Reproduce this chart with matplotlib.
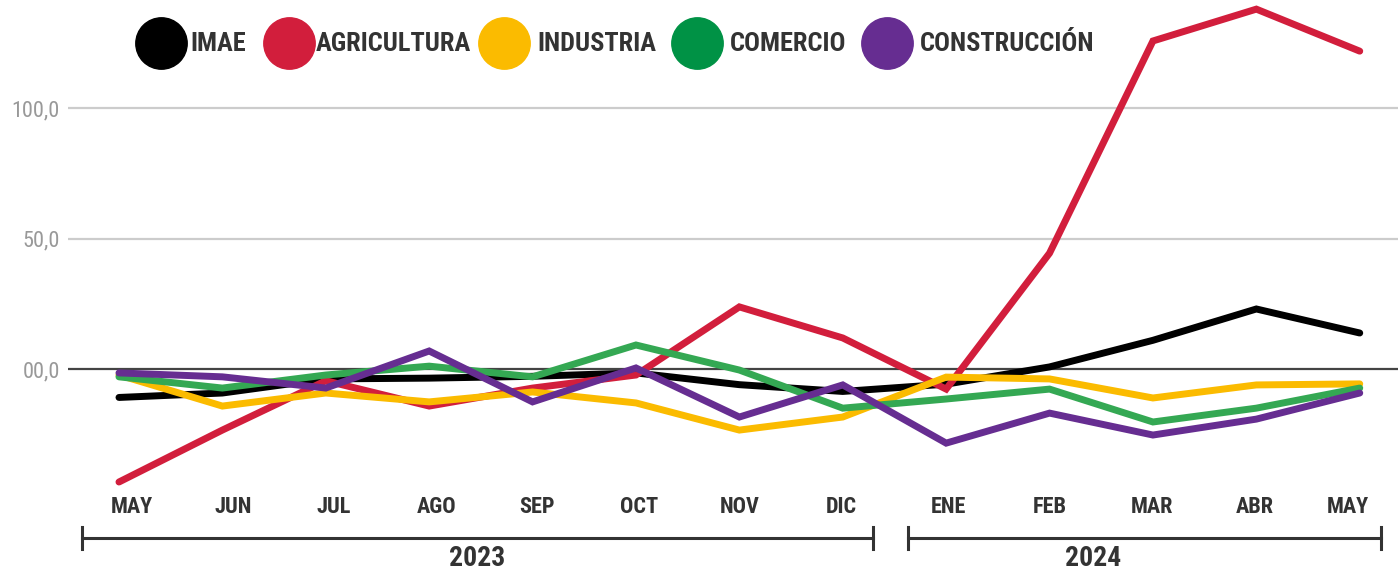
import matplotlib
matplotlib.use('Agg')
import matplotlib.pyplot as plt
from matplotlib import font_manager

# Variacion interanual por sector, mayo 2023 - mayo 2024
meses = ['MAY', 'JUN', 'JUL', 'AGO', 'SEP', 'OCT', 'NOV', 'DIC',
         'ENE', 'FEB', 'MAR', 'ABR', 'MAY']
imae = [-10.9, -9.2, -3.8, -3.5, -2.8, -1.5, -6.0, -8.6, -5.8, 0.8, 11.0, 23.0, 13.8]
agricultura = [-43.3, -23.4, -4.5, -14.2, -7.3, -2.3, 23.8, 11.9, -7.7, 44.4, 125.7, 137.9, 121.8]
industria = [-2.3, -14.2, -9.2, -12.6, -8.8, -13.0, -23.4, -18.4, -3.1, -3.8, -11.1, -6.1, -5.7]
comercio = [-3.0, -7.3, -2.3, 1.1, -3.0, 9.2, -0.4, -15.0, -11.5, -7.7, -20.3, -15.0, -7.3]
construccion = [-1.5, -3.0, -7.3, 6.9, -12.6, 0.4, -18.4, -6.1, -28.4, -16.9, -25.3, -19.2, -9.2]

series = ['IMAE', 'AGRICULTURA', 'INDUSTRIA', 'COMERCIO', 'CONSTRUCCIÓN']
valores = [imae, agricultura, industria, comercio, construccion]
colores_linea = ['#000000', '#d21e3c', '#fbbb00', '#34a853', '#662d91']
colores_leyenda = ['#000000', '#d21e3c', '#fbbb00', '#009245', '#662d91']

y_ticks = [0, 50, 100]
y_labels = ['00,0', '50,0', '100,0']
anios = ['2023', '2024']

# fuente angosta si existe
disponibles = set(f.name for f in font_manager.fontManager.ttflist)
fuente = 'DejaVu Sans'
for nombre in ['Roboto Condensed', 'Liberation Sans Narrow', 'DejaVu Sans Condensed']:
    if nombre in disponibles:
        fuente = nombre
        break
plt.rcParams['font.family'] = [fuente, 'DejaVu Sans']

W, H = 1398, 571
fig = plt.figure(figsize=(W / 100, H / 100), dpi=100)
ax = fig.add_axes([68 / W, 0, 1 - 68 / W, 1])

x = list(range(len(meses)))
ax.set_xlim(-0.493, 12.37)
ax.set_ylim(-77.4, 141.4)

# lineas de referencia
for v in y_ticks:
    if v == 0:
        ax.axhline(v, color='#444444', lw=1.6, zorder=1)
    else:
        ax.axhline(v, color='#cccccc', lw=1.6, zorder=1)

for i in range(len(series)):
    ax.plot(x, valores[i], color=colores_linea[i], lw=5,
            solid_capstyle='round', solid_joinstyle='miter', zorder=2 + i)

ax.set_yticks(y_ticks)
ax.set_yticklabels(y_labels, color='#999999', fontsize=16)
ax.tick_params(axis='y', length=0, pad=6)
ax.set_xticks([])
for s in ax.spines.values():
    s.set_visible(False)

# etiquetas de meses (van un poco corridas respecto a los puntos)
pos_etiquetas = [0.12, 1.10, 2.08, 3.07, 4.04, 5.03, 6.00, 6.99,
                 8.02, 9.00, 9.99, 10.98, 11.88]
for px, m in zip(pos_etiquetas, meses):
    ax.text(px, -52.8, m, ha='center', va='center', fontsize=16,
            fontweight='bold', color='#333333', clip_on=False)

# corchetes de anios
tramos = [(-0.36, 7.29), (7.63, 12.21)]
pos_anio = [3.46, 9.42]
for (a, b), anio, px in zip(tramos, anios, pos_anio):
    ax.plot([a, b], [-64.8, -64.8], color='#333333', lw=2.2, clip_on=False)
    for xx in (a, b):
        ax.plot([xx, xx], [-60.6, -69.0], color='#333333', lw=2.2, clip_on=False)
    ax.text(px, -72.8, anio, ha='center', va='center', fontsize=20,
            fontweight='bold', color='#333333', clip_on=False)

# leyenda
circulos = [161, 289, 504, 697, 887]
textos_x = [190, 316, 537, 730, 920]
for nombre, col, cx, tx in zip(series, colores_leyenda, circulos, textos_x):
    ax.plot([cx / W], [1 - 43 / H], marker='o', ms=37, color=col,
            transform=fig.transFigure, clip_on=False)
    fig.text(tx / W, 1 - 44 / H, nombre, ha='left', va='center', fontsize=19,
             fontweight='bold', color='#333333')

plt.savefig('out.png', dpi=100)
